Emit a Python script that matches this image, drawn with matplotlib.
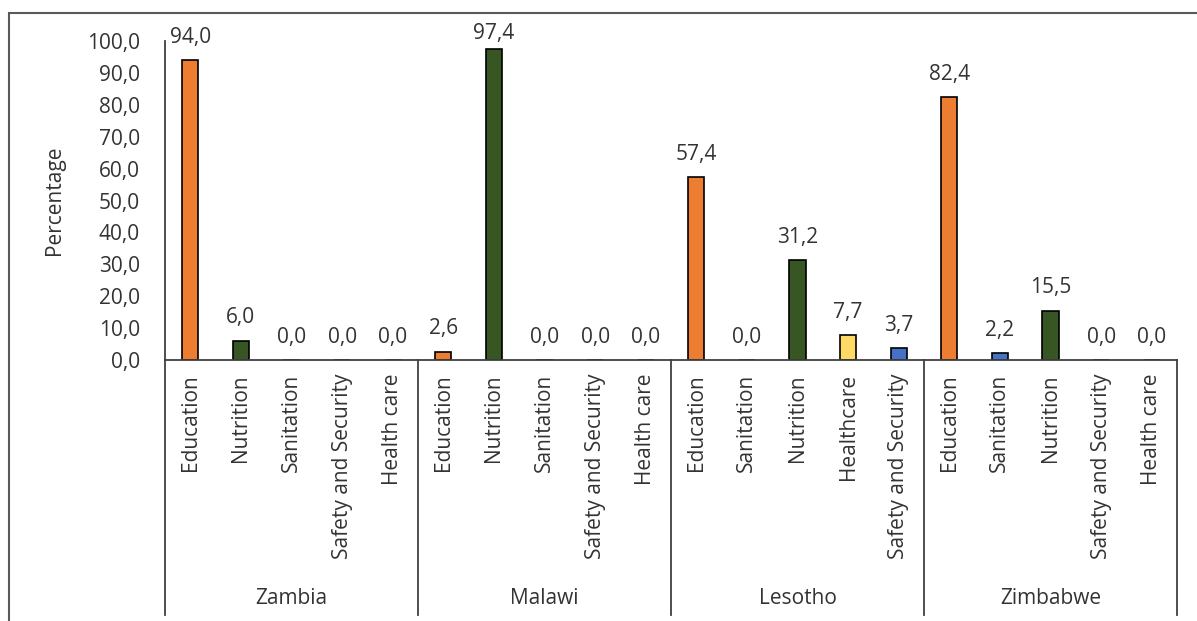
import matplotlib
matplotlib.use("Agg")
import matplotlib.pyplot as plt
from matplotlib.patches import Rectangle
from matplotlib.lines import Line2D
import numpy as np

plt.rcParams['font.family'] = ['Open Sans', 'DejaVu Sans']

# data
countries = ["Zambia", "Malawi", "Lesotho", "Zimbabwe"]
zambia_cats = ["Education", "Nutrition", "Sanitation", "Safety and Security", "Health care"]
zambia_vals = [94.0, 6.0, 0.0, 0.0, 0.0]
malawi_cats = ["Education", "Nutrition", "Sanitation", "Safety and Security", "Health care"]
malawi_vals = [2.6, 97.4, 0.0, 0.0, 0.0]
lesotho_cats = ["Education", "Sanitation", "Nutrition", "Healthcare", "Safety and Security"]
lesotho_vals = [57.4, 0.0, 31.2, 7.7, 3.7]
zimbabwe_cats = ["Education", "Sanitation", "Nutrition", "Safety and Security", "Health care"]
zimbabwe_vals = [82.4, 2.2, 15.5, 0.0, 0.0]
y_ticks = [0, 10, 20, 30, 40, 50, 60, 70, 80, 90, 100]

# colours for each bar, per group
ORANGE, GREEN, YELLOW, BLUE = "#ED7D31", "#375623", "#FFD966", "#4472C4"
zambia_cols = [ORANGE, GREEN, BLUE, BLUE, YELLOW]
malawi_cols = [ORANGE, GREEN, BLUE, BLUE, YELLOW]
lesotho_cols = [ORANGE, BLUE, GREEN, YELLOW, BLUE]
zimbabwe_cols = [ORANGE, BLUE, GREEN, BLUE, YELLOW]

cats = zambia_cats + malawi_cats + lesotho_cats + zimbabwe_cats
vals = zambia_vals + malawi_vals + lesotho_vals + zimbabwe_vals
cols = zambia_cols + malawi_cols + lesotho_cols + zimbabwe_cols
group_sizes = [len(zambia_cats), len(malawi_cats), len(lesotho_cats), len(zimbabwe_cats)]

FS = 15
TXT = "#333333"

W, H = 1197, 621
fig = plt.figure(figsize=(W / 100, H / 100), dpi=100)
ax = fig.add_axes([165 / W, 1 - 360 / H, (1177 - 165) / W, (360 - 41) / H])

x = np.arange(len(cats))
ax.bar(x, vals, width=0.32, color=cols, edgecolor="black", linewidth=1.2)

# data labels (kept inside the plot area near the top, like Excel does)
px_per_unit = (360 - 41) / 100
for xi, v in zip(x, vals):
    off = min(12.5, (100 - v) * px_per_unit * 0.72 + 1.5)
    ax.annotate(f"{v:.1f}".replace(".", ","), (xi, v), xytext=(0, off),
                textcoords="offset points", ha="center", va="baseline",
                fontsize=FS, color=TXT, annotation_clip=False)

ax.set_xlim(-0.5, len(cats) - 0.5)
ax.set_ylim(0, 100)
ax.set_yticks(y_ticks)
ax.set_yticklabels([f"{t:.1f}".replace(".", ",") for t in y_ticks], fontsize=FS, color=TXT)
ax.tick_params(axis="y", length=0, pad=18)
ax.set_ylabel("Percentage", fontsize=FS, color=TXT, labelpad=16)

ax.set_xticks(x)
ax.set_xticklabels(cats, rotation=90, fontsize=FS, color=TXT, va="top")
ax.tick_params(axis="x", length=0, pad=10)

for s in ["top", "right"]:
    ax.spines[s].set_visible(False)
for s in ["left", "bottom"]:
    ax.spines[s].set_color("#404040")
    ax.spines[s].set_linewidth(1.3)

# group separators and country names
edges = np.concatenate([[0], np.cumsum(group_sizes)]) - 0.5
trans = ax.get_xaxis_transform()
for e in edges:
    ax.add_line(Line2D([e, e], [0, -255 / 319], transform=trans, color="#404040",
                       linewidth=1.3, clip_on=False))
for i, name in enumerate(countries):
    mid = (edges[i] + edges[i + 1]) / 2
    ax.text(mid, -238 / 319, name, transform=trans, ha="center", va="center",
            fontsize=FS, color=TXT)

# chart border (top and left edges visible)
fig.add_artist(Rectangle((9 / W, -0.2), 1.2, 0.2 + (H - 13) / H,
                         transform=fig.transFigure, fill=False,
                         edgecolor="#595959", linewidth=1.5))

fig.savefig("out.png", dpi=100)
